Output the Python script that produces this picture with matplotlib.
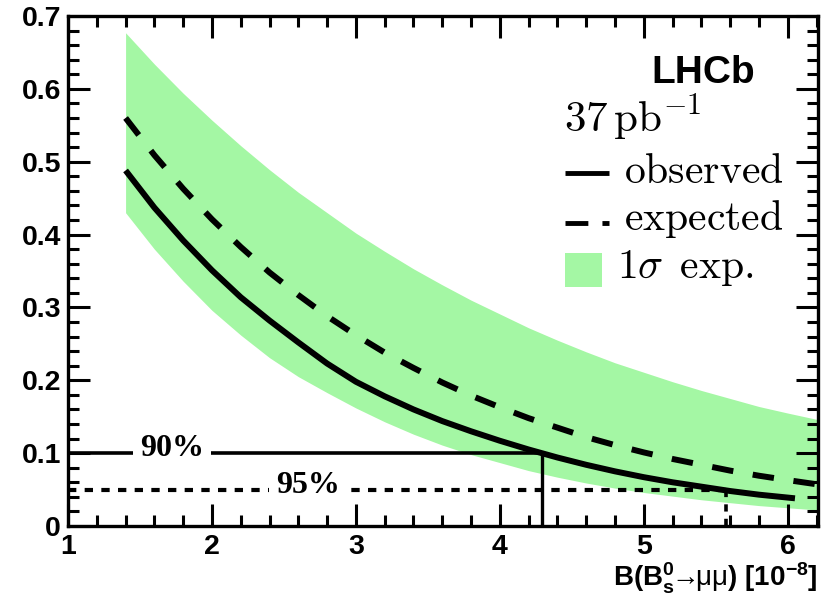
import matplotlib
matplotlib.use("Agg")
import matplotlib.pyplot as plt
from matplotlib.lines import Line2D
from matplotlib.patches import Rectangle
from matplotlib.ticker import MultipleLocator, FixedLocator, FixedFormatter

plt.rcParams['mathtext.fontset'] = 'custom'
plt.rcParams['mathtext.rm'] = 'Liberation Sans'
plt.rcParams['mathtext.bf'] = 'Liberation Sans:bold'
plt.rcParams['mathtext.it'] = 'Liberation Sans:italic'

# ---------------- data ----------------
band_x = [1.4, 1.6, 1.8, 2.0, 2.2, 2.4, 2.6, 2.8, 3.0, 3.2, 3.4, 3.6, 3.8, 4.0,
          4.2, 4.4, 4.6, 4.8, 5.0, 5.2, 5.4, 5.6, 5.8, 6.0, 6.21]
band_hi = [0.677, 0.634, 0.594, 0.557, 0.522, 0.489, 0.458, 0.430, 0.402, 0.377,
           0.353, 0.331, 0.310, 0.291, 0.272, 0.255, 0.239, 0.224, 0.211, 0.198,
           0.186, 0.175, 0.164, 0.155, 0.146]
band_lo = [0.430, 0.380, 0.336, 0.296, 0.262, 0.231, 0.205, 0.183, 0.162, 0.143,
           0.126, 0.111, 0.098, 0.087, 0.076, 0.067, 0.059, 0.052, 0.046, 0.041,
           0.036, 0.032, 0.028, 0.025, 0.022]
expected = [0.560, 0.509, 0.463, 0.421, 0.383, 0.348, 0.317, 0.288, 0.262, 0.238,
            0.217, 0.197, 0.179, 0.163, 0.148, 0.135, 0.122, 0.111, 0.101, 0.092,
            0.084, 0.076, 0.069, 0.063, 0.057]

obs_x = [1.4, 1.6, 1.8, 2.0, 2.2, 2.4, 2.6, 2.8, 3.0, 3.2, 3.4, 3.6, 3.8, 4.0,
         4.2, 4.4, 4.6, 4.8, 5.0, 5.2, 5.4, 5.6, 5.8, 6.05]
observed = [0.488, 0.437, 0.392, 0.351, 0.314, 0.282, 0.252, 0.223, 0.198, 0.178,
            0.160, 0.144, 0.130, 0.117, 0.105, 0.094, 0.084, 0.075, 0.067, 0.060,
            0.054, 0.048, 0.043, 0.038]

cl_levels = [0.10, 0.05]          # 1 - CL  (90 %, 95 %)
cl_labels = ["90%", "95%"]
cl_limits = [4.29, 5.57]          # observed upper limits
cl_label_x = [1.72, 2.67]

x_ticks = [1, 2, 3, 4, 5, 6]
y_ticks = [0, 0.1, 0.2, 0.3, 0.4, 0.5, 0.6, 0.7]
y_tick_labels = ["0", "0.1", "0.2", "0.3", "0.4", "0.5", "0.6", "0.7"]

green = "#a4f7a4"

# ---------------- figure ----------------
W, H = 825, 598
fig = plt.figure(figsize=(W / 100, H / 100), dpi=100)
ax = fig.add_axes([68 / W, 1 - 526 / H, 750 / W, 510 / H])

ax.fill_between(band_x, band_lo, band_hi, color=green, lw=0, zorder=1)
ax.plot(band_x, expected, color="black", lw=4.3, ls=(0, (3.6, 3.3)),
        solid_capstyle="butt", dash_capstyle="butt", zorder=3)
ax.plot(obs_x, observed, color="black", lw=4.3, zorder=3,
        solid_capstyle="butt", solid_joinstyle="round")

# 90 % line (solid) and 95 % line (dotted)
ax.plot([1, cl_limits[0]], [cl_levels[0]] * 2, color="black", lw=2.6, zorder=2,
        solid_capstyle="butt")
ax.plot([cl_limits[0]] * 2, [0, cl_levels[0]], color="black", lw=2.4, zorder=2,
        solid_capstyle="butt")
ax.plot([1, cl_limits[1]], [cl_levels[1]] * 2, color="black", lw=3.0,
        ls=(0, (2.0, 2.0)), dash_capstyle="butt", zorder=2)
ax.plot([cl_limits[1]] * 2, [0, cl_levels[1]], color="black", lw=2.6,
        ls=(0, (2.0, 2.0)), dash_capstyle="butt", zorder=2)

for lx, lev, lab in zip(cl_label_x, cl_levels, cl_labels):
    ax.text(lx, lev + 0.006, lab, fontsize=23, fontweight="bold",
            family="Liberation Serif", ha="center", va="center", zorder=4,
            bbox=dict(boxstyle="square,pad=0.22", fc="white", ec="none"))

ax.set_xlim(1, 6.21)
ax.set_ylim(0, 0.7)
ax.xaxis.set_major_locator(FixedLocator(x_ticks))
ax.xaxis.set_minor_locator(MultipleLocator(0.2))
ax.yaxis.set_major_locator(FixedLocator(y_ticks))
ax.yaxis.set_major_formatter(FixedFormatter(y_tick_labels))
ax.yaxis.set_minor_locator(MultipleLocator(0.02))
ax.tick_params(which="both", direction="in", top=True, right=True, width=2.2)
ax.tick_params(which="major", length=15.5)
ax.tick_params(which="minor", length=8)
ax.tick_params(axis="x", which="major", pad=6)
ax.tick_params(axis="y", which="major", pad=5)
for lab in ax.get_xticklabels() + ax.get_yticklabels():
    lab.set_fontfamily("Liberation Sans")
    lab.set_fontweight("bold")
    lab.set_fontsize(20.5)
for s in ax.spines.values():
    s.set_linewidth(2.4)

fig.text(818 / W, 1 - 586 / H,
         r"B(B$_{\mathbf{s}}^{\mathbf{0}}\!\!\rightarrow\!\!\mathrm{\mu\mu}$) [10$^{\mathbf{-8}}$]",
         fontsize=20, fontweight="bold", family="Liberation Sans",
         ha="right", va="baseline")

# ---------------- legend block ----------------
fig.text(755 / W, 1 - 83 / H, "LHCb", fontsize=28, fontweight="bold",
         family="Liberation Sans", ha="right", va="baseline")
fig.text(564 / W, 1 - 132 / H, r"$37\,\mathrm{pb}^{-1}$", fontsize=31,
         math_fontfamily="cm", ha="left", va="baseline")
leg_texts = [r"$\mathrm{observed}$", r"$\mathrm{expected}$", r"$1\sigma\ \,\mathrm{exp.}$"]
leg_base = [183, 230, 278]
leg_x = [624, 624, 617]
for t, yb, xx in zip(leg_texts, leg_base, leg_x):
    fig.text(xx / W, 1 - yb / H, t, fontsize=30, math_fontfamily="cm",
             ha="left", va="baseline")
fig.add_artist(Line2D([565 / W, 609 / W], [1 - 173 / H] * 2, color="black", lw=3.5,
                      solid_capstyle="butt"))
fig.add_artist(Line2D([565 / W, 609 / W], [1 - 223 / H] * 2, color="black", lw=3.5,
                      ls=(0, (4.7, 2.9)), dash_capstyle="butt"))
fig.add_artist(Rectangle((565 / W, 1 - 287 / H), 37 / W, 34 / H, color=green, lw=0))

fig.savefig("out.png", dpi=100)
